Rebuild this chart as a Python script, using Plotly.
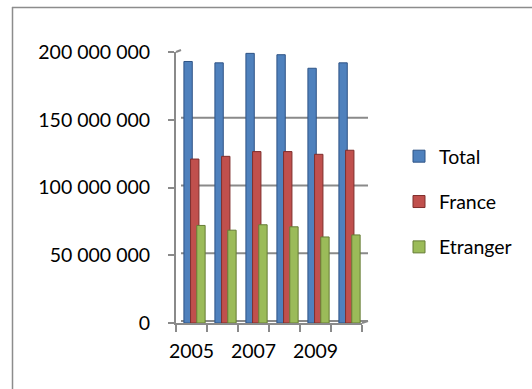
import plotly.graph_objects as go

years = ["2005", "2006", "2007", "2008", "2009", "2010"]
tick_text = ["2005", "", "2007", "", "2009", ""]
total = [193e6, 192e6, 199e6, 198e6, 188e6, 192e6]
france = [121e6, 123e6, 126.5e6, 126.5e6, 124.5e6, 127.5e6]
etranger = [72e6, 68.5e6, 72.5e6, 71e6, 63.5e6, 65e6]
y_ticks = [0, 50e6, 100e6, 150e6, 200e6]
y_tick_text = ["0", "50 000 000", "100 000 000", "150 000 000", "200 000 000"]

W, H = 532, 389
L, R, T, B = 176, 362, 52, 323  # plot area in pixels


def px(x):
    return (x - L) / (R - L)


def py(y):
    return (B - y) / (B - T)


FONT = "Lato, 'Noto Sans', sans-serif"
GRID = "#8a8a8a"

series = [
    ("Total", total, "#4F81BD", "#2f5486", -0.245),
    ("France", france, "#C0504D", "#7f2e2c", -0.03),
    ("Etranger", etranger, "#9BBB59", "#667d36", 0.17),
]

fig = go.Figure()
for name, vals, col, edge, off in series:
    fig.add_trace(go.Bar(
        x=years, y=vals, name=name, legendgroup=name,
        marker=dict(color=col, line=dict(color=edge, width=1)),
        width=0.27, offset=off,
    ))

shapes = []
# back-wall gridlines (shifted up 2px, to the right)
for v in y_ticks:
    shapes.append(dict(type="line", xref="paper", yref="y", ysizemode="pixel",
                       yanchor=v, y0=2, y1=2, x0=px(181), x1=px(368),
                       line=dict(color=GRID, width=2), layer="below"))
# top-left 3D diagonal
shapes.append(dict(type="line", xref="paper", yref="paper",
                   x0=px(176), y0=py(52), x1=px(181), y1=py(50),
                   line=dict(color=GRID, width=2)))
# bottom-right 3D diagonal of the floor
shapes.append(dict(type="line", xref="paper", yref="paper",
                   x0=px(362), y0=py(323), x1=px(368), y1=py(321),
                   line=dict(color=GRID, width=2)))
# outer frame (left and top edges)
shapes.append(dict(type="line", xref="paper", yref="paper",
                   x0=px(12.5), y0=py(7), x1=px(12.5), y1=py(400),
                   line=dict(color="#8c8c8c", width=1.5)))
shapes.append(dict(type="line", xref="paper", yref="paper",
                   x0=px(12), y0=py(7.5), x1=px(540), y1=py(7.5),
                   line=dict(color="#8c8c8c", width=1.5)))

fig.update_layout(
    width=W, height=H,
    margin=dict(l=L, r=W - R, t=T, b=H - B, autoexpand=False),
    paper_bgcolor="white", plot_bgcolor="white",
    font=dict(family=FONT, size=19.5, color="black"),
    barmode="group",
    showlegend=True,
    legend=dict(x=px(399), xanchor="left", y=py(202), yanchor="middle",
                font=dict(family=FONT, size=19.5, color="black"),
                tracegroupgap=17, bgcolor="rgba(0,0,0,0)"),
    shapes=shapes,
)
fig.update_xaxes(
    type="category", tickvals=years, ticktext=tick_text,
    tickson="boundaries", ticks="outside", ticklen=7, tickwidth=2,
    tickcolor=GRID, showline=True, linecolor=GRID, linewidth=2,
    showgrid=False, ticklabelstandoff=10, tickfont=dict(size=19.5),
    tickangle=0,
)
fig.update_yaxes(
    range=[0, 200e6], tickvals=y_ticks, ticktext=y_tick_text,
    ticks="outside", ticklen=6, tickwidth=2, tickcolor=GRID,
    showline=True, linecolor=GRID, linewidth=2, showgrid=False,
    zeroline=False, ticklabelstandoff=14, tickfont=dict(size=19.5),
)

fig.write_html("out.html")
